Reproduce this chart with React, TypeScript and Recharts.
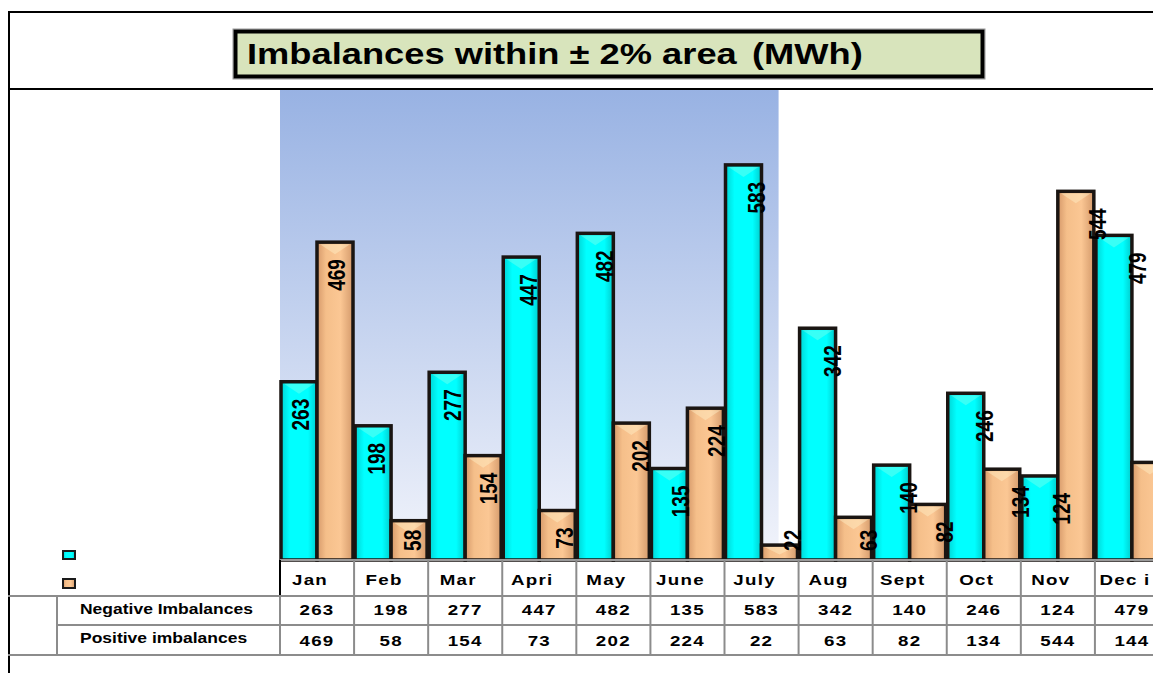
import React from 'react';
import { BarChart, Bar, XAxis, YAxis, ReferenceArea, LabelList } from 'recharts';

const months = ['Jan', 'Feb', 'Mar', 'Apri', 'May', 'June', 'July', 'Aug', 'Sept', 'Oct', 'Nov', 'Dec i'];
const negativeImbalances = [263, 198, 277, 447, 482, 135, 583, 342, 140, 246, 124, 479];
const positiveImbalances = [469, 58, 154, 73, 202, 224, 22, 63, 82, 134, 544, 144];
const seriesNames = ['Negative Imbalances', 'Positive imbalances'];
const titleMain = 'Imbalances within ± 2% area';
const titleUnit = '(MWh)';
const shadedFrom = 'Jan';
const shadedTo = 'July';

const data = months.map((m, i) => ({
  month: m,
  negative: negativeImbalances[i],
  positive: positiveImbalances[i],
}));

const FONT = '"Liberation Sans", Arial, Helvetica, sans-serif';
const SX = 1.25;
const CHART_W = 1161;
const CHART_H = 660;
const M_LEFT = 272;
const M_TOP = 81;
const M_BOTTOM = 8;
const X_H = 100;
const PLOT_W = CHART_W - M_LEFT;
const BAND = PLOT_W / months.length;
const BOX_W = 1145;

const Tick = (props: any) => {
  const { x, y, payload } = props;
  const i = months.indexOf(payload.value);
  const left = x - BAND / 2;
  const txt = (yy: number, s: any, dx = 0) => (
    <text
      transform={`translate(${x + dx},${yy}) scale(${SX},1)`}
      textAnchor="middle"
      fontFamily={FONT}
      fontWeight="bold"
      fontSize={15}
      letterSpacing={1}
      fill="#000"
    >
      {s}
    </text>
  );
  return (
    <g>
      {i === 0 ? (
        <>
          <line x1={left} x2={left} y1={y} y2={y + 36} stroke="#000" strokeWidth={2} />
          <line x1={left} x2={left} y1={y + 36} y2={y + 95} stroke="#8c8c8c" strokeWidth={2} />
        </>
      ) : (
        <line x1={left} x2={left} y1={y} y2={y + 95} stroke="#8c8c8c" strokeWidth={2} />
      )}
      {txt(y + 25, payload.value, -7)}
      {txt(y + 55, negativeImbalances[i])}
      {txt(y + 86, positiveImbalances[i])}
    </g>
  );
};

const BarLabel = (props: any) => {
  const vb = props.viewBox || {};
  const x = props.x ?? vb.x;
  const y = props.y ?? vb.y;
  const width = props.width ?? vb.width;
  const height = props.height ?? vb.height;
  const index = props.index ?? 0;
  const v = String(props.value);
  const len = v.length * 10.6;
  const base = y + height;
  const top = Math.min(y + 17, base - 9 - len);
  const cx = x + width / 2 + 2 + 2 * index;
  return (
    <text
      transform={`translate(${cx},${top}) rotate(-90) scale(1,${SX})`}
      textAnchor="end"
      dominantBaseline="central"
      fontFamily={FONT}
      fontWeight="bold"
      fontSize={19}
      fill="#000"
    >
      {v}
    </text>
  );
};

const makeShape = (grad: string, hi: string) => (props: any) => {
  const { x, y, width, height } = props;
  if (!height || height <= 0) return <g />;
  const tri = Math.min(10, height / 2);
  return (
    <g>
      <rect x={x} y={y} width={width} height={height} fill={`url(#${grad})`} stroke="#1a1512" strokeWidth={3.5} />
      <polygon
        points={`${x + 3},${y + 2} ${x + width - 3},${y + 2} ${x + width / 2},${y + 2 + tri}`}
        fill={hi}
      />
    </g>
  );
};

const BgShape = (props: any) => {
  const { x, y, width, height } = props;
  return <rect x={x} y={y} width={Math.max(0, width - BAND * 0.27)} height={height} fill="url(#bgGrad)" />;
};

export default function App() {
  return (
    <div style={{ position: 'relative', width: 1153, height: 673, overflow: 'hidden', background: '#fff' }}>
      <style>{'html,body{margin:0;padding:0;overflow:hidden}'}</style>
      <div style={{ position: 'absolute', left: 8, top: 8, width: BOX_W, height: 665 }}>
        <svg width={0} height={0} style={{ position: 'absolute' }}>
          <defs>
            <linearGradient id="bgGrad" x1="0" y1="0" x2="0" y2="1">
              <stop offset="0%" stopColor="#98b2e3" />
              <stop offset="100%" stopColor="#f2f4fb" />
            </linearGradient>
            <linearGradient id="cyanGrad" x1="0" y1="0" x2="1" y2="0">
              <stop offset="0%" stopColor="#00d4d4" />
              <stop offset="25%" stopColor="#00ffff" />
              <stop offset="75%" stopColor="#00ffff" />
              <stop offset="100%" stopColor="#00cccc" />
            </linearGradient>
            <linearGradient id="peachGrad" x1="0" y1="0" x2="1" y2="0">
              <stop offset="0%" stopColor="#d6996a" />
              <stop offset="25%" stopColor="#f5bf8a" />
              <stop offset="65%" stopColor="#fbc794" />
              <stop offset="100%" stopColor="#d49a6b" />
            </linearGradient>
          </defs>
        </svg>
        <div style={{ position: 'absolute', left: 0, top: 0 }}>
          <BarChart
            width={CHART_W}
            height={CHART_H}
            data={data}
            margin={{ top: M_TOP, right: 0, left: M_LEFT, bottom: M_BOTTOM }}
            barCategoryGap={1}
            barGap={0}
          >
            <ReferenceArea x1={shadedFrom} x2={shadedTo} ifOverflow="visible" shape={BgShape} />
            <XAxis
              dataKey="month"
              height={X_H}
              tickSize={0}
              tickMargin={0}
              tickLine={false}
              axisLine={{ stroke: '#9a9a9a', strokeWidth: 2 }}
              tick={Tick}
              interval={0}
            />
            <YAxis
              width={0}
              domain={[0, 695]}
              tick={false}
              tickLine={false}
              axisLine={{ stroke: '#000', strokeWidth: 2 }}
            />
            <Bar
              dataKey="negative"
              name={seriesNames[0]}
              isAnimationActive={false}
              shape={makeShape('cyanGrad', 'rgba(160,255,230,0.35)')}
            >
              <LabelList dataKey="negative" content={BarLabel} />
            </Bar>
            <Bar
              dataKey="positive"
              name={seriesNames[1]}
              isAnimationActive={false}
              shape={makeShape('peachGrad', 'rgba(255,240,200,0.45)')}
            >
              <LabelList dataKey="positive" content={BarLabel} />
            </Bar>
          </BarChart>
        </div>
        <svg width={BOX_W} height={665} style={{ position: 'absolute', left: 0, top: 0, pointerEvents: 'none' }}>
          {/* frame */}
          <line x1={0} x2={BOX_W} y1={4} y2={4} stroke="#000" strokeWidth={2} />
          <line x1={1} x2={1} y1={3} y2={665} stroke="#000" strokeWidth={2} />
          <line x1={0} x2={BOX_W} y1={81} y2={81} stroke="#000" strokeWidth={2} />
          {/* title */}
          <rect x={225} y={21} width={752} height={50} fill="none" stroke="#9a9a9a" strokeWidth={1} />
          <rect x={227.5} y={23.5} width={747} height={45} fill="#d8e4bc" stroke="#000" strokeWidth={4} />
          <text
            transform={`translate(239,56) scale(1.21,1)`}
            fontFamily={FONT}
            fontWeight="bold"
            fontSize={30}
            fill="#000"
          >
            {titleMain}
          </text>
          <text
            transform={`translate(744,56) scale(1.21,1)`}
            fontFamily={FONT}
            fontWeight="bold"
            fontSize={30}
            fill="#000"
          >
            {titleUnit}
          </text>
          {/* table lines */}
          <line x1={0} x2={BOX_W} y1={588} y2={588} stroke="#8c8c8c" strokeWidth={2} />
          <line x1={49} x2={BOX_W} y1={617} y2={617} stroke="#8c8c8c" strokeWidth={2} />
          <line x1={0} x2={BOX_W} y1={647} y2={647} stroke="#8c8c8c" strokeWidth={2} />
          <line x1={49} x2={49} y1={588} y2={647} stroke="#8c8c8c" strokeWidth={2} />
          {/* legend keys */}
          <rect x={55} y={543} width={12} height={8} fill="url(#cyanGrad)" stroke="#1a1a1a" strokeWidth={2} />
          <rect x={55} y={571} width={12} height={9} fill="url(#peachGrad)" stroke="#1a1a1a" strokeWidth={2} />
          {/* row headers */}
          <text transform={`translate(72,606) scale(${SX},1)`} fontFamily={FONT} fontWeight="bold" fontSize={14} fill="#000">
            {seriesNames[0]}
          </text>
          <text transform={`translate(72,635) scale(${SX},1)`} fontFamily={FONT} fontWeight="bold" fontSize={14} fill="#000">
            {seriesNames[1]}
          </text>
        </svg>
      </div>
    </div>
  );
}
